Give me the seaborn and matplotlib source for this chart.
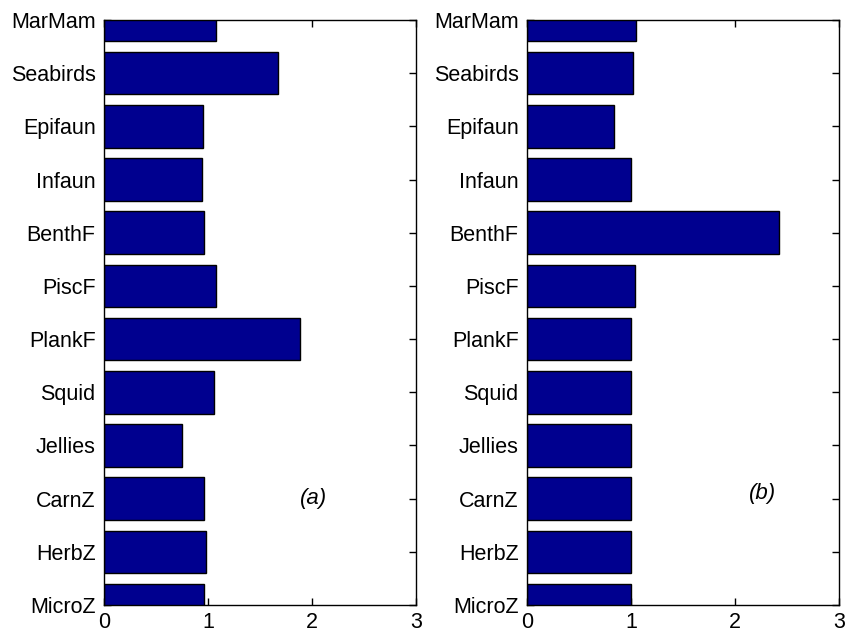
import matplotlib
matplotlib.use("Agg")
import matplotlib.pyplot as plt
import seaborn as sns
import pandas as pd

# groups, listed top to bottom as they appear on the chart
groups = ["MarMam", "Seabirds", "Epifaun", "Infaun", "BenthF", "PiscF",
          "PlankF", "Squid", "Jellies", "CarnZ", "HerbZ", "MicroZ"]
values_a = [1.08, 1.67, 0.95, 0.94, 0.96, 1.08, 1.88, 1.06, 0.75, 0.96, 0.98, 0.96]
values_b = [1.05, 1.02, 0.84, 1.00, 2.42, 1.04, 1.00, 1.00, 1.00, 1.00, 1.00, 1.00]
panel_labels = ["(a)", "(b)"]
xticks = [0, 1, 2, 3]

sns.set_style("ticks")
plt.rcParams["font.family"] = ["Liberation Sans", "DejaVu Sans"]
plt.rcParams["text.color"] = "black"

fig = plt.figure(figsize=(8.46, 6.36), dpi=100)
ax_a = fig.add_axes([104 / 846, 31 / 636, 312 / 846, 585 / 636])
ax_b = fig.add_axes([527 / 846, 31 / 636, 312 / 846, 585 / 636])

label_pos = [(2.01, 9.0), (2.26, 8.9)]

for ax, vals, lab, pos in zip([ax_a, ax_b], [values_a, values_b], panel_labels, label_pos):
    df = pd.DataFrame({"group": groups, "value": vals})
    sns.barplot(data=df, x="value", y="group", order=groups, orient="h",
                color="#00008F", saturation=1, width=0.8,
                edgecolor="black", linewidth=1, ax=ax)
    ax.set_xlim(0, 3)
    ax.set_ylim(len(groups) - 1, 0)
    ax.set_xticks(xticks)
    ax.set_xlabel("")
    ax.set_ylabel("")
    ax.tick_params(direction="in", top=True, right=True, length=5, width=1,
                   labelsize=15.5, colors="black")
    ax.tick_params(axis="x", pad=5)
    ax.tick_params(axis="y", pad=6)
    for s in ax.spines.values():
        s.set_visible(True)
        s.set_color("black")
        s.set_linewidth(1)
    ax.text(pos[0], pos[1], lab, fontsize=16, style="italic", color="black",
            ha="center", va="center")

fig.savefig("out.png", dpi=100)
